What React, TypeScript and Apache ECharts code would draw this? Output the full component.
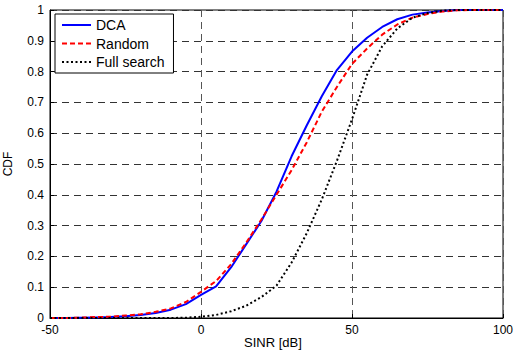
import React, { useEffect, useRef } from "react";
import * as echarts from "echarts";

const sinr = [-50, -45, -40, -35, -30, -25, -20, -15, -10, -5, 0, 5, 10, 15, 20, 25, 30, 35, 40, 45, 50, 55, 60, 65, 70, 75, 80, 85, 90, 95, 100];
const dca = [0, 0, 0.001, 0.002, 0.003, 0.006, 0.01, 0.016, 0.027, 0.045, 0.075, 0.103, 0.165, 0.24, 0.315, 0.41, 0.525, 0.625, 0.72, 0.805, 0.865, 0.91, 0.945, 0.97, 0.985, 0.992, 0.997, 1, 1, 1, 1];
const randomSel = [0, 0, 0.001, 0.003, 0.004, 0.008, 0.012, 0.02, 0.031, 0.052, 0.085, 0.12, 0.175, 0.245, 0.32, 0.4, 0.48, 0.57, 0.67, 0.75, 0.825, 0.875, 0.92, 0.953, 0.975, 0.987, 0.995, 0.999, 1, 1, 1];
const fullSearch = [0, 0, 0, 0, 0, 0, 0, 0, 0, 0.001, 0.004, 0.01, 0.022, 0.04, 0.068, 0.105, 0.18, 0.275, 0.385, 0.51, 0.645, 0.79, 0.882, 0.94, 0.975, 0.99, 0.998, 1, 1, 1, 1];

const xTicks = [-50, 0, 50, 100];
const yTicks = [0, 0.1, 0.2, 0.3, 0.4, 0.5, 0.6, 0.7, 0.8, 0.9, 1];

const FONT = "'Liberation Sans', Arial, Helvetica, sans-serif";

function pairs(ys: number[]) {
  return sinr.map((x, i) => [x, ys[i]]);
}

export default function App() {
  const ref = useRef<HTMLDivElement>(null);
  useEffect(() => {
    if (!ref.current) return;
    const chart = echarts.init(ref.current, undefined, { renderer: "svg" });
    chart.setOption({
      animation: false,
      backgroundColor: "#fff",
      grid: {
        left: 50,
        top: 10,
        right: 16,
        bottom: 37,
        show: true,
        borderColor: "#000",
        borderWidth: 1,
        backgroundColor: "transparent",
      },
      legend: {
        orient: "vertical",
        left: 55,
        top: 14,
        padding: [4, 9, 4, 6],
        itemWidth: 29,
        itemHeight: 14,
        itemGap: 4.5,
        backgroundColor: "#fff",
        borderColor: "#000",
        borderWidth: 1,
        borderRadius: 0,
        itemStyle: { opacity: 0 },
        textStyle: { fontFamily: FONT, fontSize: 14, color: "#000" },
        data: ["DCA", "Random", "Full search"],
      },
      xAxis: {
        type: "value",
        min: -50,
        max: 100,
        interval: 50,
        axisLine: { show: true, onZero: false, lineStyle: { color: "#000", width: 1 } },
        axisTick: { show: true, inside: true, length: 4, lineStyle: { color: "#000" } },
        axisLabel: {
          fontFamily: FONT,
          fontSize: 12,
          color: "#000",
          margin: 6,
          formatter: (v: number) => (xTicks.includes(v) ? String(v) : ""),
        },
        splitLine: { show: true, lineStyle: { color: "#555", type: [7, 5], width: 1 } },
      },
      yAxis: {
        type: "value",
        min: 0,
        max: 1,
        interval: 0.1,
        axisLine: { show: true, onZero: false, lineStyle: { color: "#000", width: 1 } },
        axisTick: { show: true, inside: true, length: 4, lineStyle: { color: "#000" } },
        axisLabel: {
          fontFamily: FONT,
          fontSize: 12,
          color: "#000",
          margin: 6,
          formatter: (v: number) => {
            const t = yTicks.find((k) => Math.abs(k - v) < 1e-6);
            return t === undefined ? "" : String(t);
          },
        },
        splitLine: { show: true, lineStyle: { color: "#333", type: [7, 5], width: 1 } },
      },
      series: [
        {
          name: "DCA",
          type: "line",
          symbol: "none",
          data: pairs(dca),
          lineStyle: { color: "#0000ff", width: 2, type: "solid" },
          itemStyle: { color: "#0000ff" },
        },
        {
          name: "Random",
          type: "line",
          symbol: "none",
          data: pairs(randomSel),
          lineStyle: { color: "#ff0000", width: 2, type: [5, 3] },
          itemStyle: { color: "#ff0000" },
        },
        {
          name: "Full search",
          type: "line",
          symbol: "none",
          data: pairs(fullSearch),
          lineStyle: { color: "#000000", width: 2, type: [2, 2.5] },
          itemStyle: { color: "#000000" },
        },
      ],
      graphic: [
        {
          type: "text",
          left: 244,
          top: 336,
          style: { text: "SINR [dB]", font: `13px ${FONT}`, fill: "#000" },
        },
        {
          type: "text",
          x: 8,
          y: 164,
          rotation: Math.PI / 2,
          style: { text: "CDF", font: `12px ${FONT}`, fill: "#000", align: "center", verticalAlign: "middle" },
        },
      ],
    });
    return () => chart.dispose();
  }, []);
  return (
    <div
      ref={ref}
      style={{ position: "fixed", left: 0, top: 0, width: 519, height: 355, background: "#fff" }}
    />
  );
}
